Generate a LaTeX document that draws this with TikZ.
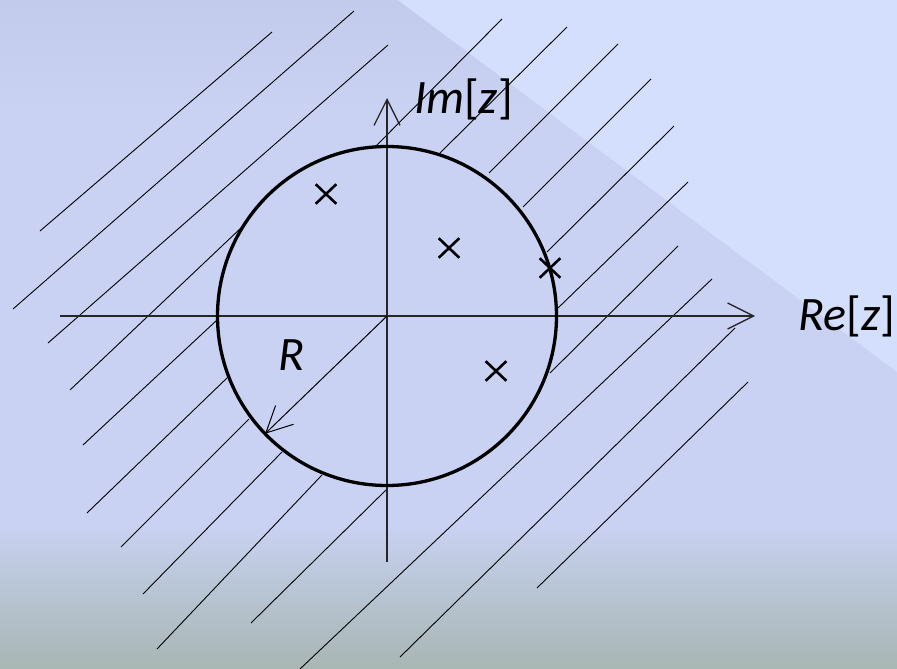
\documentclass[tikz,border=0pt]{standalone}
\usepackage{fontspec}
\setmainfont{Carlito}
\usepackage{tikz}
\usetikzlibrary{arrows.meta,shapes.misc}
\definecolor{bgblue}{RGB}{201,210,242}
\definecolor{bgtop}{RGB}{195,203,236}
\definecolor{bglight}{RGB}{212,222,253}
\definecolor{bgmid}{RGB}{184,197,212}
\definecolor{bggreen}{RGB}{168,182,180}

\begin{document}
\begin{tikzpicture}[
  x=1pt, y=-1pt,
  font=\fontsize{48}{52}\selectfont,
  >={Straight Barb[length=26pt,width=26pt]},
  hatch/.style={black, line width=0.9pt},
  axis/.style={->, line width=1.3pt, black!85},
  radius/.style={->, line width=1pt, black},
  rim/.style={circle, draw, line width=3.3pt, minimum size=339pt, inner sep=0pt, outer sep=0pt},
  pole/.style={cross out, draw, line width=2.6pt, minimum width=18pt, minimum height=17pt, inner sep=0pt},
  lbl/.style={inner sep=0pt, anchor=base west},
]

% Background
\useasboundingbox (0,0) rectangle (897,669);
\fill[bgblue] (0,0) rectangle (897,669);
\shade[top color=bgtop, bottom color=bgblue] (0,0) rectangle (897,110);
\fill[bglight] (398,0) -- (897,0) -- (897,372) -- cycle;
\shade[top color=bgblue, bottom color=bgmid] (0,525) rectangle (897,590);
\shade[top color=bgmid, bottom color=bggreen] (0,590) rectangle (897,669);

% Hatching outside the circle
\draw[hatch] (40,231) -- (272,32);
\draw[hatch] (13,309) -- (354,11);
\draw[hatch] (48,343) -- (388,45);
\draw[hatch] (70,390) -- (242,227);
\draw[hatch] (83,445) -- (217,320);
\draw[hatch] (87,513) -- (227,378);
\draw[hatch] (121,547) -- (249,419);
\draw[hatch] (143,594) -- (282,452);
\draw[hatch] (157,649) -- (322,475);
\draw[hatch] (251,623) -- (387,489);
\draw[hatch] (300,669) -- (712,279);
\draw[hatch] (400,657) -- (735,328);
\draw[hatch] (537,588) -- (748,382);
\draw[hatch] (375,147) -- (502,19);
\draw[hatch] (440,153) -- (567,27);
\draw[hatch] (489,173) -- (618,44);
\draw[hatch] (523,207) -- (651,79);
\draw[hatch] (547,252) -- (674,126);
\draw[hatch] (558,308) -- (688,182);
\draw[hatch] (550,373) -- (678,246);

% Axes
\coordinate (O) at (387,316);
\coordinate (xl) at (60,316);
\coordinate (xr) at (755,316);
\coordinate (yb) at (387,562);
\coordinate (yt) at (387,98);
\draw[axis] (xl) -- (xr);
\draw[axis] (yb) -- (yt);

% Circle of radius R
\node[rim] (C) at (O) {};
\draw[radius] (O) -- (C.224);

% Poles
\node[pole] (p1) at (326,194) {};
\node[pole] (p2) at (449,248) {};
\node[pole] (p3) at (550,268) {};
\node[pole] (p4) at (496,371) {};

% Labels
\node[lbl] (im) at (414,113) {\textit{Im}[\textit{z}]};
\node[lbl] (re) at (798,330) {\textit{Re}[\textit{z}]};
\node[lbl] (r) at (278,370) {\textit{R}};

\end{tikzpicture}
\end{document}
